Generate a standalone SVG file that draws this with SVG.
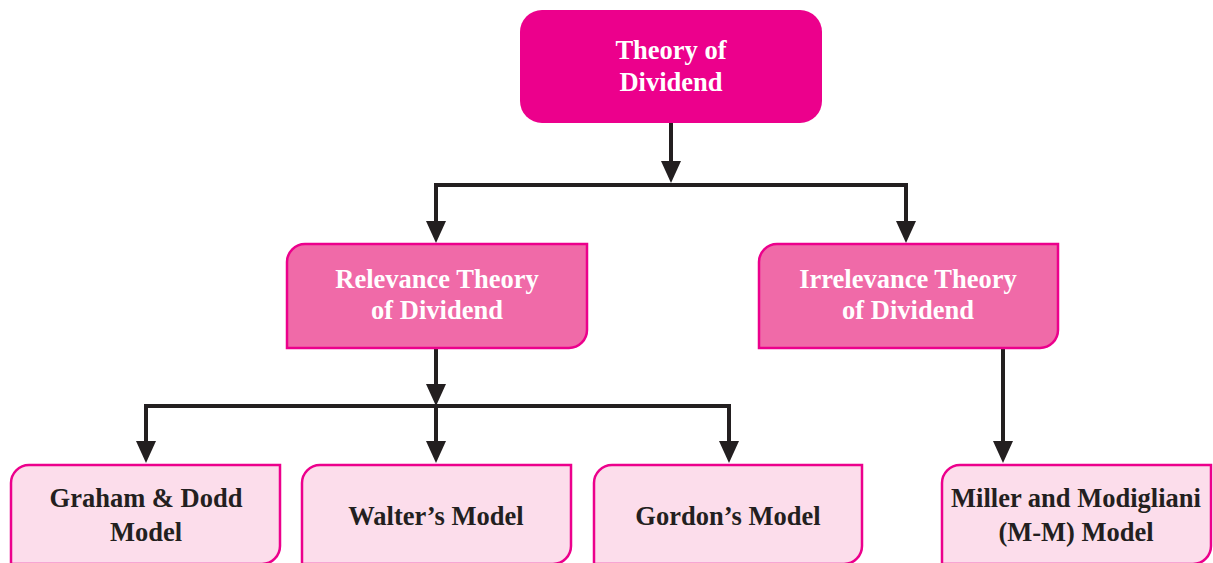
<svg xmlns="http://www.w3.org/2000/svg" width="1213" height="563" viewBox="0 0 1213 563">
<defs>
<style>
.t{font-family:"Liberation Serif","Times New Roman",serif;font-weight:bold;font-size:26.5px;text-anchor:middle}
.w{fill:#ffffff}
.d{fill:#231F20}
.top{fill:#EC008C}
.mid{fill:#F06AA8;stroke:#EC008C;stroke-width:2.5}
.bot{fill:#FCDDEB;stroke:#EC008C;stroke-width:2.5}
.c{fill:none;stroke:#231F20;stroke-width:4}
</style>
</defs>
<rect width="1213" height="563" fill="#ffffff"/>
<g id="connectors">
<path class="c" d="M671,123 V161"/>
<path d="M661,161 L681,161 L671,183 Z" fill="#231F20"/>
<path class="c" d="M436,221 V185 H906 V221"/>
<path d="M426,221 L446,221 L436,243 Z" fill="#231F20"/>
<path d="M896,221 L916,221 L906,243 Z" fill="#231F20"/>
<path class="c" d="M436,348 V384"/>
<path d="M426,384 L446,384 L436,406 Z" fill="#231F20"/>
<path class="c" d="M146,441 V406 H729 V441"/>
<path class="c" d="M436,406 V441"/>
<path d="M136,441 L156,441 L146,463 Z" fill="#231F20"/>
<path d="M426,441 L446,441 L436,463 Z" fill="#231F20"/>
<path d="M719,441 L739,441 L729,463 Z" fill="#231F20"/>
<path class="c" d="M1003,348 V441"/>
<path d="M993,441 L1013,441 L1003,463 Z" fill="#231F20"/>
</g>
<g id="theory">
<rect class="top" x="520" y="10" width="302" height="113" rx="22"/>
<text class="t w" x="671" y="59">Theory of</text>
<text class="t w" x="671" y="91">Dividend</text>
</g>
<g id="relevance">
<path class="mid" d="M305,244 H587 V330 A18,18 0 0 1 569,348 H287 V262 A18,18 0 0 1 305,244 Z"/>
<text class="t w" x="437" y="288">Relevance Theory</text>
<text class="t w" x="437" y="319">of Dividend</text>
</g>
<g id="irrelevance">
<path class="mid" d="M777,244 H1058 V330 A18,18 0 0 1 1040,348 H759 V262 A18,18 0 0 1 777,244 Z"/>
<text class="t w" x="908" y="288">Irrelevance Theory</text>
<text class="t w" x="908" y="319">of Dividend</text>
</g>
<g id="graham">
<path class="bot" d="M29,465 H280 V546 A18,18 0 0 1 262,564 H11 V483 A18,18 0 0 1 29,465 Z"/>
<text class="t d" x="146" y="507">Graham &amp; Dodd</text>
<text class="t d" x="146" y="541">Model</text>
</g>
<g id="walter">
<path class="bot" d="M320,465 H571 V546 A18,18 0 0 1 553,564 H302 V483 A18,18 0 0 1 320,465 Z"/>
<text class="t d" x="436" y="525">Walter’s Model</text>
</g>
<g id="gordon">
<path class="bot" d="M612,465 H862 V546 A18,18 0 0 1 844,564 H594 V483 A18,18 0 0 1 612,465 Z"/>
<text class="t d" x="728" y="525">Gordon’s Model</text>
</g>
<g id="miller">
<path class="bot" d="M960,465 H1211 V546 A18,18 0 0 1 1193,564 H942 V483 A18,18 0 0 1 960,465 Z"/>
<text class="t d" x="1076" y="507">Miller and Modigliani</text>
<text class="t d" x="1076" y="541">(M-M) Model</text>
</g>
</svg>
